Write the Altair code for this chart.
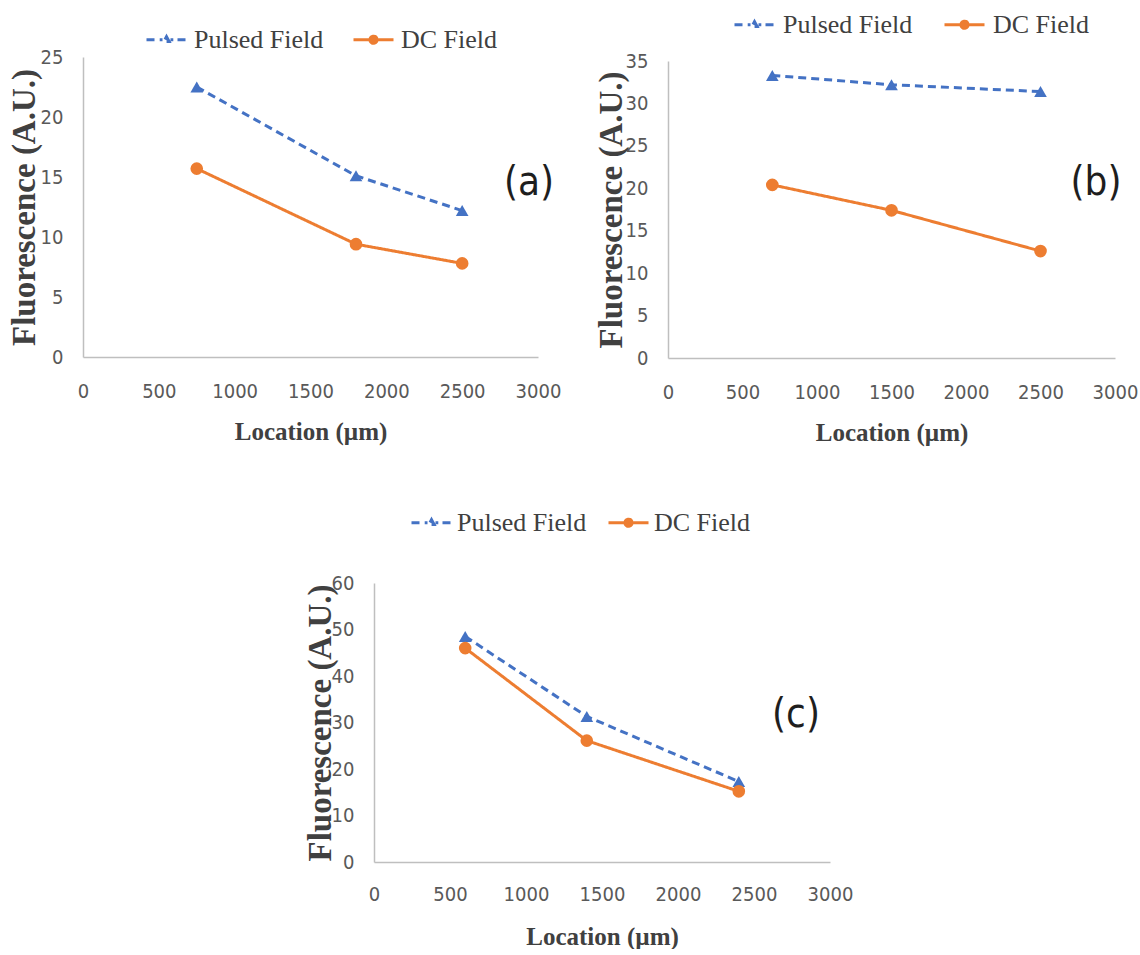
import altair as alt
import pandas as pd

# ---------------- data ----------------
series_names = ["Pulsed Field", "DC Field"]
series_colors = ["#4472C4", "#ED7D31"]
series_shapes = ["triangle-up", "circle"]

x_ticks = [0, 500, 1000, 1500, 2000, 2500, 3000]

a_location = [750, 1800, 2500]
a_pulsed = [22.5, 15.1, 12.2]
a_dc = [15.7, 9.4, 7.8]
a_yticks = [0, 5, 10, 15, 20, 25]

b_location = [700, 1500, 2500]
b_pulsed = [33.3, 32.2, 31.4]
b_dc = [20.4, 17.4, 12.6]
b_yticks = [0, 5, 10, 15, 20, 25, 30, 35]

c_location = [600, 1400, 2400]
c_pulsed = [48.5, 31.3, 17.3]
c_dc = [46.0, 26.1, 15.2]
c_yticks = [0, 10, 20, 30, 40, 50, 60]

panel_tags = ["(a)", "(b)", "(c)"]

# ---------------- styles ----------------
TICK_FONT = "'Liberation Sans Narrow', 'DejaVu Sans Condensed', 'Roboto Condensed', sans-serif"
SERIF = "'Liberation Serif', 'Times New Roman', serif"
# legend symbols (stroked): line (dashed / solid) with the marker in the middle
LEG_PULSED = ("M-1,0H-0.55M-0.34,0H-0.2M0.2,0H0.34M0.55,0H1"
              "M0,-0.15L0.13,0.09L-0.13,0.09Z")
LEG_DC = ("M-1,0H-0.25M0.25,0H1"
          "M0.18,0A0.18,0.18,0,1,1,-0.18,0A0.18,0.18,0,1,1,0.18,0Z"
          "M0.08,0A0.08,0.08,0,1,1,-0.08,0A0.08,0.08,0,1,1,0.08,0Z")
DASHES = [[8, 5], [1, 0]]

RESOLVE = dict(color="independent", shape="independent", strokeDash="independent")


def make_df(loc, pulsed, dc):
    rows = []
    for s, col, shp, vals in zip(series_names, series_colors, series_shapes, [pulsed, dc]):
        for xv, v in zip(loc, vals):
            rows.append({"loc": xv, "val": v, "series": s, "series_m": s,
                         "hex": col, "shp": shp})
    return pd.DataFrame(rows)


def x_axis(label_pad, title_pad):
    return alt.Axis(values=x_ticks, format="d", title="Location (µm)", grid=False,
                    ticks=False, tickSize=0, labelPadding=label_pad,
                    labelFont=TICK_FONT, labelFontSize=20, labelColor="#595959",
                    labelFlush=False, labelOverlap=False,
                    titleFont=SERIF, titleFontSize=25, titleFontWeight="bold",
                    titleColor="#404040", titlePadding=title_pad,
                    domainColor="#BFBFBF", domainWidth=1.5)


def y_axis(yticks, title_pad, offset):
    return alt.Axis(values=yticks, format="d", title="Fluorescence (A.U.)", grid=False,
                    ticks=False, tickSize=0, labelPadding=20, offset=offset,
                    labelFont=TICK_FONT, labelFontSize=20, labelColor="#595959",
                    labelFlush=False, labelOverlap=False,
                    titleFont=SERIF, titleFontSize=33, titleFontWeight="bold",
                    titleColor="#404040", titlePadding=title_pad,
                    domainColor="#BFBFBF", domainWidth=1.5)


def hidden(px, py):
    return alt.Chart(pd.DataFrame({"k": [0]})).mark_point(
        opacity=0, size=4, shape="square", filled=True
    ).encode(x=alt.value(px), y=alt.value(py))


def panel(df, yticks, ymax, w, h, xrange, yrange, yoff,
          lx, ly, colpad, laboff, xlp, xtp, ytp,
          tag, tag_x, tag_y, hidden_pts):
    base = alt.Chart(df)
    x = alt.X("loc:Q", scale=alt.Scale(domain=[0, 3000], nice=False, range=xrange),
              axis=x_axis(xlp, xtp))
    y = alt.Y("val:Q", scale=alt.Scale(domain=[0, ymax], nice=False, range=yrange),
              axis=y_axis(yticks, ytp, yoff))
    lines = base.mark_line(strokeWidth=3).encode(
        x=x, y=y,
        color=alt.Color("hex:N", scale=None),
        detail="series:N",
        strokeDash=alt.StrokeDash("series:N", scale=alt.Scale(domain=series_names, range=DASHES),
                                  legend=None),
    )
    pts = base.mark_point(filled=True, size=160, opacity=1).encode(
        x=x, y=y,
        color=alt.Color("hex:N", scale=None),
        shape=alt.Shape("shp:N", scale=None),
    )
    leg = alt.Legend(orient="none", legendX=lx, legendY=ly, direction="horizontal", title=None,
                     symbolSize=1600, symbolStrokeWidth=3,
                     labelFont=SERIF, labelFontSize=26, labelColor="#404040",
                     labelOffset=laboff, columnPadding=colpad, padding=0, rowPadding=0,
                     labelLimit=400)
    # legend-only layer: its marks sit outside the clipped plot area
    legend_layer = base.mark_point(filled=False, strokeWidth=3, opacity=1, clip=True).encode(
        x=alt.value(-700), y=alt.value(-700),
        color=alt.Color("series_m:N", scale=alt.Scale(domain=series_names, range=series_colors),
                        legend=leg),
        shape=alt.Shape("series_m:N", scale=alt.Scale(domain=series_names, range=[LEG_PULSED, LEG_DC]),
                        legend=leg),
    )
    tag_layer = alt.Chart(pd.DataFrame({"k": [0]})).mark_text(
        font=TICK_FONT, fontSize=40, color="#1E1E1E", align="center", baseline="middle"
    ).encode(x=alt.value(tag_x), y=alt.value(tag_y), text=alt.value(tag))
    layers = [lines, pts, legend_layer, tag_layer] + [hidden(px, py) for px, py in hidden_pts]
    return alt.layer(*layers).properties(width=w, height=h)


pa = panel(make_df(a_location, a_pulsed, a_dc), a_yticks, 25, 455, 300,
           [0, 455], [300, 0], 0,
           62, -39, 23, 6, 24, 18, -1, panel_tags[0], 446, 126,
           [(-82, -56), (482, 405)])
pb = panel(make_df(b_location, b_pulsed, b_dc), b_yticks, 35, 447, 301,
           [0, 447], [301, 4], 0,
           65, -54, 25, 7, 24, 18, -3, panel_tags[1], 428, 126,
           [(-90, -40)])
pc = panel(make_df(c_location, c_pulsed, c_dc), c_yticks, 60, 747, 279,
           [291, 747], [279, 0], -291,
           327, -82, 15, 4, 22, 20, -6, panel_tags[2], 713, 132,
           [(300, -115)])

row1 = alt.hconcat(pa, pb, spacing=11).resolve_scale(**RESOLVE)
chart = alt.vconcat(row1, pc, spacing=4).resolve_scale(**RESOLVE).properties(
    padding=0, background="white"
).configure_view(strokeWidth=0)

chart.save("out.html", embed_options={"renderer": "svg", "actions": False})
